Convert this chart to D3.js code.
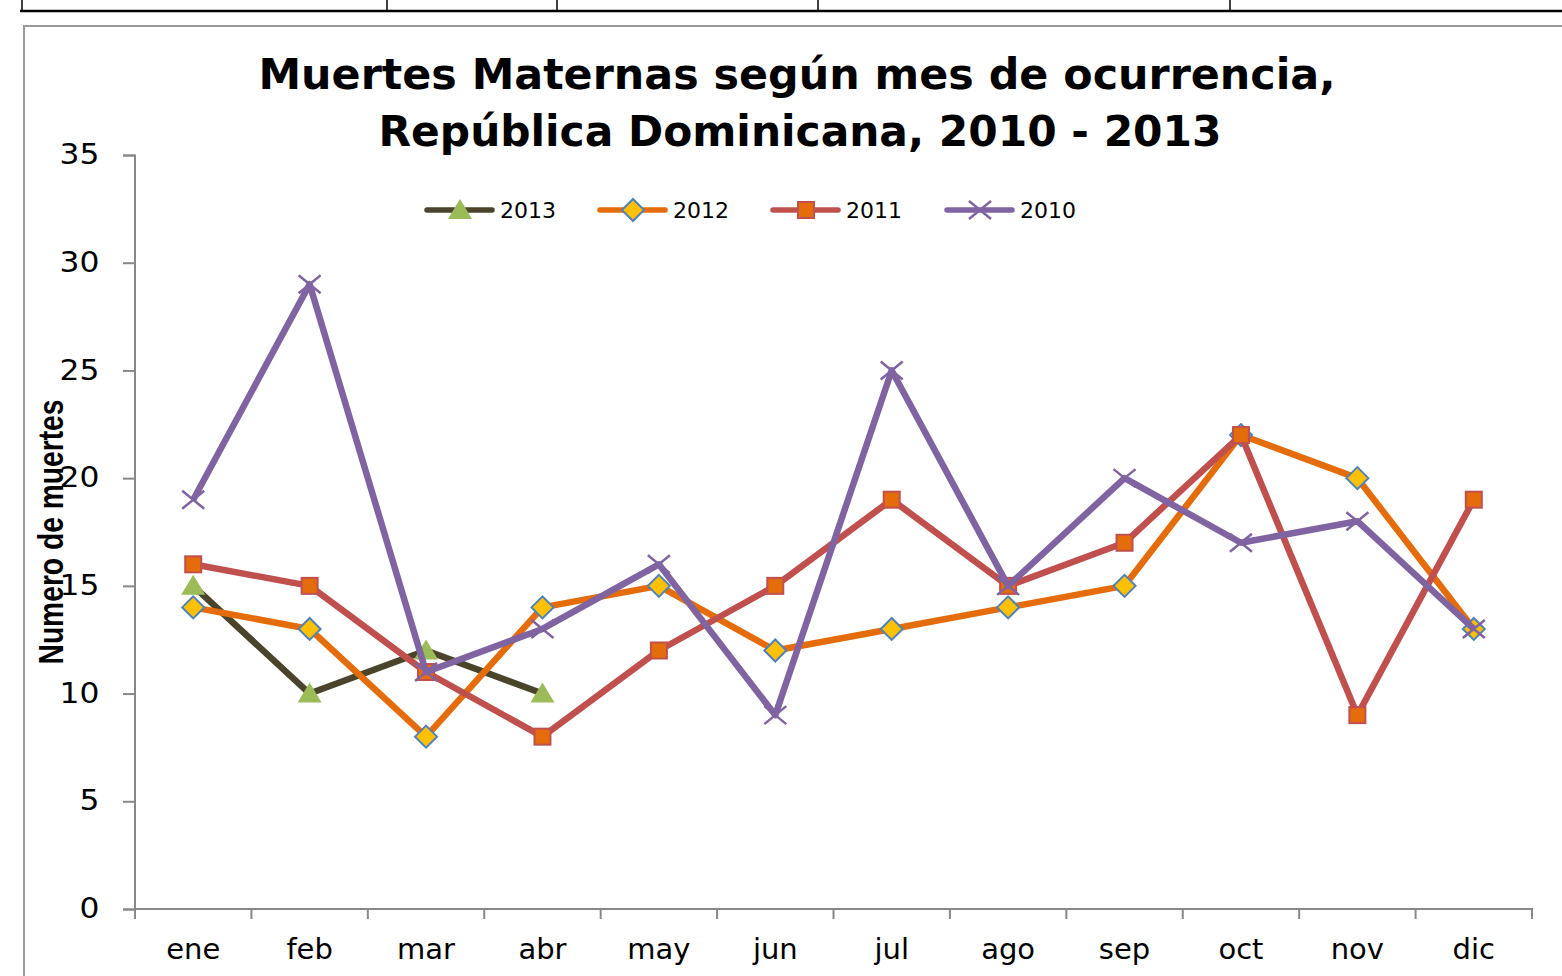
<!DOCTYPE html>
<html><head><meta charset="utf-8">
<script src="https://cdn.jsdelivr.net/npm/d3@7"></script>
<style>body{margin:0;background:#fff;overflow:hidden}</style>
</head><body>
<svg id="c" width="1562" height="976"></svg>
<script>
const months = ["ene","feb","mar","abr","may","jun","jul","ago","sep","oct","nov","dic"];
const years = ["2013","2012","2011","2010"];
const v2013 = [15,10,12,10];
const v2012 = [14,13,8,14,15,12,13,14,15,22,20,13];
const v2011 = [16,15,11,8,12,15,19,15,17,22,9,19];
const v2010 = [19,29,11,13,16,9,25,15,20,17,18,13];
const yTicks = [0,5,10,15,20,25,30,35];

const svg = d3.select("#c");
// top table fragment
svg.append("line").attr("x1",20).attr("x2",1562).attr("y1",11).attr("y2",11).attr("stroke","#000").attr("stroke-width",2.5);
[22,387,557,818,1230].forEach(x=>svg.append("line").attr("x1",x).attr("x2",x).attr("y1",0).attr("y2",11).attr("stroke","#000").attr("stroke-width",1.5));
// chart frame
svg.append("path").attr("d","M24,976 V26 H1562").attr("fill","none").attr("stroke","#999").attr("stroke-width",2);

// title
const title = svg.append("text").attr("text-anchor","middle").attr("font-family","DejaVu Sans, Verdana, sans-serif").attr("font-weight","bold").attr("font-size",42).attr("fill","#000");
title.append("tspan").attr("x",797).attr("y",89).attr("textLength",1077).attr("lengthAdjust","spacingAndGlyphs").text("Muertes Maternas según mes de ocurrencia,");
title.append("tspan").attr("x",800).attr("y",146).attr("textLength",843).attr("lengthAdjust","spacingAndGlyphs").text("República Dominicana, 2010 - 2013");

const x = d3.scaleBand().domain(months).range([135,1532]);
const y = d3.scaleLinear().domain([0,35]).range([909,155]);

const fs = "DejaVu Sans, Verdana, sans-serif";
const yAxis = svg.append("g").attr("transform","translate(135,0)")
  .call(d3.axisLeft(y).tickValues(yTicks).tickSize(12).tickPadding(21));
yAxis.select(".domain").attr("stroke","#888").attr("stroke-width",2).attr("d","M-12,155.5H0V909.5H-12");
yAxis.selectAll(".tick line").attr("stroke","#888").attr("stroke-width",2);
yAxis.selectAll("text").attr("font-family",fs).attr("font-size",29).attr("fill","#000").attr("dy","0.3em")
  .attr("transform","scale(1.08,1)");

const xAxis = svg.append("g").attr("transform","translate(0,909)")
  .call(d3.axisBottom(x).tickSize(0).tickPadding(29));
xAxis.select(".domain").attr("stroke","#888").attr("stroke-width",2).attr("d","M135,0H1532V10");
xAxis.selectAll("text").attr("font-family",fs).attr("font-size",29).attr("fill","#000");
const bounds = months.map(m=>x(m));
xAxis.selectAll(".bt").data(bounds).enter().append("line").attr("class","bt")
  .attr("x1",d=>d).attr("x2",d=>d).attr("y1",0).attr("y2",10).attr("stroke","#888").attr("stroke-width",2);

// y label
svg.append("text").attr("transform","translate(63,532) rotate(-90)").attr("text-anchor","middle")
  .attr("font-family","Liberation Sans Narrow, Arial Narrow, Liberation Sans, sans-serif").attr("font-weight","bold")
  .attr("font-size",35).attr("fill","#000").attr("textLength",265).attr("lengthAdjust","spacingAndGlyphs").text("Numero de muertes");

const series = [
  {name:"2013", vals:v2013, line:"#4a452a", marker:"tri"},
  {name:"2012", vals:v2012, line:"#e46c0a", marker:"dia"},
  {name:"2011", vals:v2011, line:"#c0504d", marker:"sq"},
  {name:"2010", vals:v2010, line:"#8064a2", marker:"x"}
];
const cx = i => x(months[i]) + x.bandwidth()/2;
const lineGen = d3.line().x((d,i)=>cx(i)).y(d=>y(d));

function marker(g, type, px, py){
  if(type==="tri"){
    g.append("path").attr("d",`M${px},${py-11}L${px+12},${py+9}L${px-12},${py+9}Z`).attr("fill","#9bbb59");
  } else if(type==="dia"){
    g.append("path").attr("d",`M${px},${py-11}L${px+11},${py}L${px},${py+11}L${px-11},${py}Z`).attr("fill","#ffc000").attr("stroke","#4f81bd").attr("stroke-width",2);
  } else if(type==="sq"){
    g.append("rect").attr("x",px-8).attr("y",py-8).attr("width",16).attr("height",16).attr("fill","#e46c0a").attr("stroke","#c0504d").attr("stroke-width",2);
  } else {
    g.append("path").attr("d",`M${px-11},${py-9}L${px+11},${py+9}M${px-11},${py+9}L${px+11},${py-9}`).attr("stroke","#8064a2").attr("stroke-width",2.5);
  }
}

series.forEach(s=>{
  const g = svg.append("g");
  g.append("path").attr("d",lineGen(s.vals)).attr("fill","none").attr("stroke",s.line).attr("stroke-width",6.5).attr("stroke-linejoin","round");
  s.vals.forEach((v,i)=>marker(g,s.marker,cx(i),y(v)));
});

// legend
const legX = [427,600,773,947];
series.forEach((s,k)=>{
  const g = svg.append("g");
  const x0 = legX[k];
  g.append("line").attr("x1",x0).attr("x2",x0+65).attr("y1",210).attr("y2",210).attr("stroke",s.line).attr("stroke-width",5.5).attr("stroke-linecap","round");
  marker(g,s.marker,x0+33,210);
  g.append("text").attr("x",x0+73).attr("y",218).attr("font-family",fs).attr("font-size",22).attr("fill","#000").text(s.name);
});
</script>
</body></html>
